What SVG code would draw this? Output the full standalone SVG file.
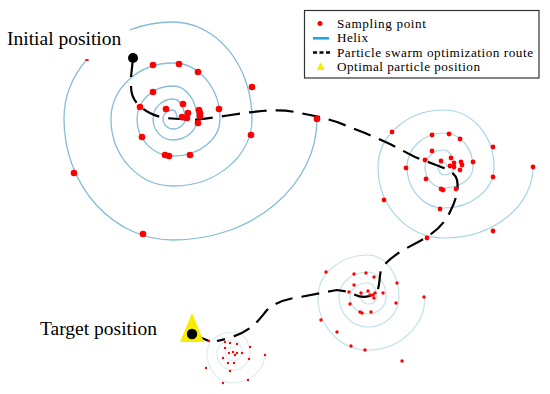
<svg xmlns="http://www.w3.org/2000/svg" width="550" height="394" viewBox="0 0 550 394">
<style>
.h1{fill:none;stroke:#86bcd9;stroke-width:1.3}
.h2{fill:none;stroke:#a9d4e6;stroke-width:1.2}
.h3{fill:none;stroke:#c4e3ee;stroke-width:1.2}
.h4{fill:none;stroke:#d9edf3;stroke-width:1.1}
.route{fill:none;stroke:#000;stroke-width:2.2;stroke-dasharray:18 9}
.solid{fill:none;stroke:#000;stroke-width:2.2}
.d1 circle{fill:#f00;r:3.3px}
.d2 circle{fill:#f00;r:2.4px}
.d3 circle{fill:#f00;r:1.7px}
.d4 circle{fill:#f00;r:1.2px}
.lbl{font-family:"Liberation Serif","Times New Roman",serif;fill:#000}
.leg{font-family:"Liberation Serif","Times New Roman",serif;fill:#000;font-size:13.2px}
</style>
<rect width="550" height="394" fill="#fff"/>

<g id="helix1">
<path class="h1" d="M177,119 A4 9 0 0 0 173,110 A10 9 0 0 0 163,119 A10 10 0 0 0 173,129 A12 10 0 0 0 185,119 A12 20 0 0 0 173,99 A20 20 0 0 0 153,119 A20 21 0 0 0 173,140 A24 21 0 0 0 197,119 A24 33 0 0 0 173,86 A36 33 0 0 0 137,119 A36 37 0 0 0 173,156 A47 37 0 0 0 220,119 A47 56 0 0 0 173,63 A62 56 0 0 0 111,119 A62 67 0 0 0 173,186 A79 67 0 0 0 252,119 A79 97 0 0 0 173,22 A109 97 0 0 0 130,29.9 M87,59.4 A109 97 0 0 0 64,119 A109 121 0 0 0 173,240 A144 121 0 0 0 317,119"/>
</g>
<g id="helix2">
<path class="h2" d="M447,167 A3 4 0 0 0 444,163 A6 4 0 0 0 438,167 A6 8 0 0 0 444,175 A10 8 0 0 0 454,167 A10 17 0 0 0 444,150 A19 17 0 0 0 425,167 A19 21 0 0 0 444,188 A29 21 0 0 0 473,167 A29 34 0 0 0 444,133 A37 34 0 0 0 407,167 A37 41 0 0 0 444,208 A50 41 0 0 0 494,167 A50 57 0 0 0 444,110 A66 57 0 0 0 378,167 A66 71 0 0 0 444,238 A89 71 0 0 0 533,167"/>
</g>
<g id="helix3">
<path class="h3" d="M371,297 A3 5 0 0 0 368,292 A7 5 0 0 0 361,297 A7 7 0 0 0 368,304 A9 7 0 0 0 377,297 A9 14 0 0 0 368,283 A18 14 0 0 0 350,297 A18 17 0 0 0 368,314 A18 17 0 0 0 386,297 A18 25 0 0 0 368,272 A29 25 0 0 0 339,297 A29 30 0 0 0 368,327 A31 30 0 0 0 399,297 A31 42 0 0 0 368,255 A50 42 0 0 0 318,297 A50 53 0 0 0 368,350 A57 53 0 0 0 425,297"/>
</g>
<g id="helix4">
<path class="h4" d="M236,353 A3 6 0 0 0 233,347 A8 6 0 0 0 225,353 A8 8 0 0 0 233,361 A9 8 0 0 0 242,353 A9 13 0 0 0 233,340 A16 13 0 0 0 217,353 A16 17 0 0 0 233,370 A17 17 0 0 0 250,353 A17 21 0 0 0 233,332 A26 21 0 0 0 207,353 A26 30 0 0 0 233,383 A32 30 0 0 0 265,353"/>
</g>

<g id="connectors">
<path class="solid" d="M133,58 L131,77"/>
<path class="route" d="M131,86 C131,95 134,101 140,106 C146,112 155,116 165,118 L193,120 C215,118 240,113 262,111 C275,110 285,110 295,112 L320,117 L337,122 L365,133 L390,144 L415,157 L436,165 C447,169 455,172 457,180 C459,190 456,200 450,212 C445,222 437,232 420,241 L405,249 C395,255 385,262 381,270 C379,278 380,286 377,291 C372,298 360,299 350,292 L337,290 L300,297 C285,299 275,303 267,310 C262,316 258,322 250,328 C243,333 235,337 217,341"/>
<path class="solid" d="M209,341 L192,334"/>
</g>

<g id="samples1" class="d1">
<ellipse cx="87" cy="60" rx="2" ry="1" fill="#f00"/>
<circle cx="153" cy="65"/><circle cx="179" cy="64"/><circle cx="198" cy="72"/><circle cx="252" cy="87"/>
<circle cx="153" cy="92"/><circle cx="183" cy="104"/><circle cx="140" cy="107"/><circle cx="166" cy="109"/>
<circle cx="188" cy="113"/><circle cx="199" cy="110"/><circle cx="200" cy="113"/><circle cx="200" cy="116"/>
<circle cx="219" cy="109"/><circle cx="182" cy="117"/><circle cx="187" cy="118"/><circle cx="198" cy="123"/>
<circle cx="251" cy="135"/><circle cx="142" cy="137"/><circle cx="165" cy="155"/><circle cx="169" cy="156"/>
<circle cx="190" cy="155"/><circle cx="74" cy="173"/><circle cx="143" cy="234"/><circle cx="317" cy="119"/>
</g>
<g id="samples2" class="d2">
<circle cx="392" cy="132"/><circle cx="432" cy="135"/><circle cx="449" cy="134"/><circle cx="460" cy="139"/>
<circle cx="493" cy="147"/><circle cx="432" cy="151"/><circle cx="425" cy="160"/><circle cx="441" cy="161"/>
<circle cx="451" cy="158"/><circle cx="454" cy="163"/><circle cx="450" cy="166"/><circle cx="461" cy="162"/>
<circle cx="462" cy="165"/><circle cx="473" cy="162"/><circle cx="406" cy="168"/><circle cx="454" cy="167"/>
<circle cx="460" cy="170"/><circle cx="426" cy="179"/><circle cx="493" cy="177"/><circle cx="441" cy="189"/>
<circle cx="443" cy="190"/><circle cx="456" cy="189"/><circle cx="384" cy="200"/><circle cx="440" cy="209"/>
<circle cx="493" cy="231"/><circle cx="427" cy="238"/><circle cx="533" cy="167"/>
</g>
<g id="samples3" class="d3">
<circle cx="326" cy="272"/><circle cx="354" cy="274"/><circle cx="366" cy="273"/><circle cx="374" cy="277"/>
<circle cx="397" cy="283"/><circle cx="354" cy="285"/><circle cx="349" cy="292"/><circle cx="361" cy="293"/>
<circle cx="368" cy="291"/><circle cx="375" cy="293"/><circle cx="370" cy="295"/><circle cx="373" cy="295"/>
<circle cx="374" cy="298"/><circle cx="383" cy="293"/><circle cx="350" cy="304"/><circle cx="424" cy="297"/>
<circle cx="396" cy="303"/><circle cx="360" cy="312"/><circle cx="362" cy="313"/><circle cx="371" cy="312"/>
<circle cx="321" cy="320"/><circle cx="337" cy="332"/><circle cx="351" cy="346"/><circle cx="365" cy="350"/>
<circle cx="402" cy="361"/>
</g>
<g id="samples4" class="d4">
<circle cx="209" cy="341"/><circle cx="225" cy="342"/><circle cx="230" cy="343"/><circle cx="237" cy="344"/>
<circle cx="225" cy="348"/><circle cx="250" cy="347"/><circle cx="229" cy="353"/><circle cx="233" cy="352"/>
<circle cx="235" cy="355"/><circle cx="237" cy="353"/><circle cx="242" cy="353"/><circle cx="223" cy="358"/>
<circle cx="249" cy="359"/><circle cx="265" cy="355"/><circle cx="228" cy="363"/><circle cx="234" cy="363"/>
<circle cx="206" cy="368"/><circle cx="230" cy="371"/><circle cx="248" cy="380"/><circle cx="223" cy="383"/>
</g>

<g id="initial">
<circle cx="133" cy="58" r="5" fill="#000"/>
<text class="lbl" x="7" y="45" font-size="19.5">Initial position</text>
</g>
<g id="target">
<polygon points="192,313 180,342 204,342" fill="#f8ec00"/>
<circle cx="192" cy="334" r="5.2" fill="#000"/>
<text class="lbl" x="40" y="335" font-size="19.5">Target position</text>
</g>

<g id="legend">
<rect x="304.5" y="10.5" width="234.5" height="67.5" fill="#fff" stroke="#333" stroke-width="1.2"/>
<circle cx="320" cy="23.5" r="2.5" fill="#f00"/>
<line x1="313" y1="38.3" x2="329" y2="38.3" stroke="#1ea0e0" stroke-width="2.5"/>
<line x1="313" y1="52.5" x2="330" y2="52.5" stroke="#000" stroke-width="2.5" stroke-dasharray="4 2.5"/>
<polygon points="320.7,62.3 316.7,70 324.7,70" fill="#f8ec00"/>
<text class="leg" x="337" y="27.5" textLength="89" lengthAdjust="spacing">Sampling point</text>
<text class="leg" x="337" y="42" textLength="31" lengthAdjust="spacing">Helix</text>
<text class="leg" x="337" y="56.5" textLength="196" lengthAdjust="spacing">Particle swarm optimization route</text>
<text class="leg" x="337" y="71" textLength="143" lengthAdjust="spacing">Optimal particle position</text>
</g>
</svg>
